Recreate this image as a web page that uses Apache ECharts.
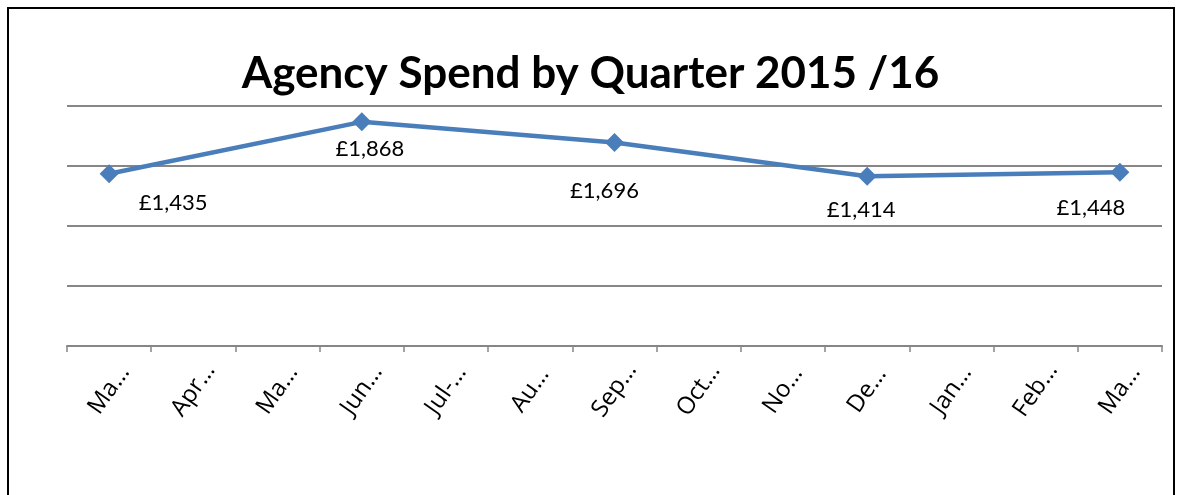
<!DOCTYPE html>
<html>
<head>
<meta charset="utf-8">
<script src="https://cdn.jsdelivr.net/npm/echarts@6/dist/echarts.min.js"></script>
<style>
  html, body { margin: 0; padding: 0; background: #ffffff; }
  #chart { width: 1181px; height: 495px; }
</style>
</head>
<body>
<div id="chart"></div>
<script>
// Chart data
const titleText = 'Agency Spend by Quarter 2015 /16';
const categories = ['Ma…', 'Apr…', 'Ma…', 'Jun…', 'Jul-…', 'Au…', 'Sep…', 'Oct…', 'No…', 'De…', 'Jan…', 'Feb…', 'Ma…'];
const spend = [1435, null, null, 1868, null, null, 1696, null, null, 1414, null, null, 1448];
const yMin = 0;
const yMax = 2000;
const yInterval = 500;

// Label placement (styling only): offset of each value label from its point
const labelOffsets = {0: [64, 29], 3: [8, 27], 6: [-10, 48], 9: [-6, 34], 12: [-29, 36]};

function fmt(v) {
  return '£' + String(v).replace(/\B(?=(\d{3})+(?!\d))/g, ',');
}

const seriesData = spend.map(function (v, i) {
  if (v === null) return null;
  return {
    value: v,
    label: { offset: labelOffsets[i] || [0, 28] }
  };
});

const chart = echarts.init(document.getElementById('chart'), null, { renderer: 'canvas' });
chart.setOption({
  animation: false,
  backgroundColor: '#ffffff',
  title: {
    text: titleText,
    left: 'center',
    top: 47,
    textStyle: { fontFamily: 'Lato', fontWeight: 'bold', fontSize: 44, color: '#000000' }
  },
  graphic: [{
    type: 'rect',
    shape: { x: 8, y: 8, width: 1166, height: 600 },
    style: { fill: null, stroke: '#000000', lineWidth: 2 },
    silent: true,
    z: 100
  }],
  grid: { left: 67, right: 19, top: 106, bottom: 149, containLabel: false },
  xAxis: {
    type: 'category',
    data: categories,
    boundaryGap: true,
    axisLine: { lineStyle: { color: '#868686', width: 2 } },
    axisTick: { show: true, length: 6, lineStyle: { color: '#868686', width: 1.5 } },
    axisLabel: {
      rotate: 55,
      interval: 0,
      margin: 44,
      align: 'center',
      verticalAlign: 'middle',
      overflow: 'none',
      fontFamily: 'Open Sans',
      fontSize: 24,
      color: '#000000'
    }
  },
  yAxis: {
    type: 'value',
    min: yMin,
    max: yMax,
    interval: yInterval,
    axisLine: { show: false },
    axisTick: { show: false },
    axisLabel: { show: false },
    splitLine: { lineStyle: { color: '#868686', width: 2 } }
  },
  series: [{
    type: 'line',
    data: seriesData,
    connectNulls: true,
    symbol: 'diamond',
    symbolSize: 19,
    lineStyle: { color: '#4a7ebb', width: 4.5 },
    itemStyle: { color: '#4a7ebb' },
    label: {
      show: true,
      position: 'inside',
      align: 'center',
      verticalAlign: 'middle',
      fontFamily: 'Lato',
      fontSize: 22,
      color: '#000000',
      formatter: function (p) { return fmt(p.value); }
    }
  }]
});
</script>
</body>
</html>
